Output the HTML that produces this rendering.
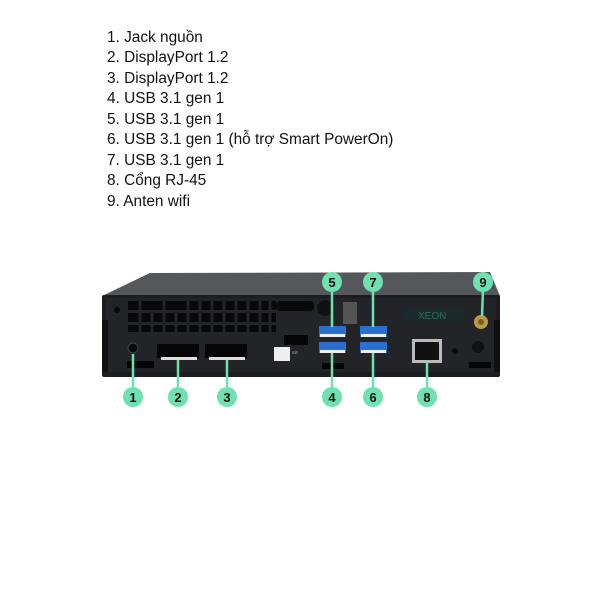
<!DOCTYPE html>
<html><head><meta charset="utf-8"><style>
html,body{margin:0;padding:0;background:#fff;width:600px;height:600px;overflow:hidden}
</style></head><body>
<svg width="600" height="600" xmlns="http://www.w3.org/2000/svg" style="display:block">
<rect width="600" height="600" fill="#fff"/>
<g font-family="Liberation Sans, sans-serif" font-size="15.4" fill="#111">
<text x="107" y="42">1. Jack nguồn</text>
<text x="107" y="62">2. DisplayPort 1.2</text>
<text x="107" y="83">3. DisplayPort 1.2</text>
<text x="107" y="103">4. USB 3.1 gen 1</text>
<text x="107" y="124">5. USB 3.1 gen 1</text>
<text x="107" y="144">6. USB 3.1 gen 1 (hỗ trợ Smart PowerOn)</text>
<text x="107" y="165">7. USB 3.1 gen 1</text>
<text x="107" y="185">8. Cổng RJ-45</text>
<text x="107" y="206">9. Anten wifi</text>
</g>
<!-- lid -->
<polygon points="102,296 150,273 490,272 500,296" fill="#55575b"/>
<!-- body -->
<rect x="102" y="295" width="398" height="82" fill="#1c1d20" rx="2"/>
<rect x="106" y="298" width="390" height="74" fill="#232427"/>
<rect x="102" y="320" width="6" height="52" fill="#111"/>
<rect x="494" y="320" width="6" height="52" fill="#111"/>
<!-- vents -->
<g fill="#08080a">
<rect x="128" y="301" width="148" height="9"/>
<rect x="128" y="313" width="148" height="9"/>
<rect x="128" y="325" width="148" height="7"/>
</g>
<g stroke="#232427" stroke-width="3">
<line x1="140" y1="300" x2="140" y2="333"/><line x1="152" y1="312" x2="152" y2="333"/>
<line x1="164" y1="300" x2="164" y2="333"/><line x1="176" y1="312" x2="176" y2="333"/>
<line x1="188" y1="300" x2="188" y2="333"/><line x1="200" y1="300" x2="200" y2="333"/>
<line x1="212" y1="300" x2="212" y2="333"/><line x1="224" y1="300" x2="224" y2="333"/>
<line x1="236" y1="300" x2="236" y2="333"/><line x1="248" y1="300" x2="248" y2="333"/>
<line x1="260" y1="300" x2="260" y2="333"/><line x1="270" y1="300" x2="270" y2="333"/>
</g>
<circle cx="117" cy="310" r="3" fill="#0a0a0a"/>
<circle cx="133" cy="348" r="5" fill="#0a0a0a" stroke="#444" stroke-width="1"/>
<rect x="127" y="361" width="27" height="7" fill="#050505"/>
<rect x="157" y="344" width="42" height="14" fill="#050505"/>
<rect x="161" y="357" width="36" height="3" fill="#ddd"/>
<rect x="205" y="344" width="42" height="14" fill="#050505"/>
<rect x="209" y="357" width="36" height="3" fill="#ddd"/>
<rect x="276" y="301" width="38" height="10" rx="4" fill="#0a0a0a"/>
<circle cx="325" cy="308" r="8" fill="#111"/>
<rect x="343" y="302" width="14" height="22" fill="#555"/>
<rect x="284" y="335" width="24" height="10" fill="#050505"/>
<rect x="274" y="347" width="16" height="14" fill="#eee"/>
<text x="292" y="354" font-family="Liberation Sans, sans-serif" font-size="4" fill="#ccc">SIT</text>
<rect x="322" y="363" width="22" height="6" fill="#050505"/>
<g>
<rect x="319" y="326" width="27" height="11" fill="#2a6fd0"/><rect x="320" y="334" width="25" height="3" fill="#eee"/>
<rect x="360" y="326" width="27" height="11" fill="#2a6fd0"/><rect x="361" y="334" width="25" height="3" fill="#eee"/>
<rect x="319" y="342" width="27" height="11" fill="#2a6fd0"/><rect x="320" y="350" width="25" height="3" fill="#eee"/>
<rect x="360" y="342" width="27" height="11" fill="#2a6fd0"/><rect x="361" y="350" width="25" height="3" fill="#eee"/>
</g>
<rect x="403" y="308" width="60" height="14" rx="3" fill="#1a2a2c"/>
<text x="418" y="319" font-family="Liberation Sans, sans-serif" font-size="10" fill="#2c6a60">XEON</text>
<rect x="412" y="339" width="30" height="24" fill="#bbb"/>
<rect x="415" y="342" width="24" height="18" fill="#111"/>
<circle cx="455" cy="351" r="3" fill="#0a0a0a"/>
<circle cx="478" cy="347" r="6" fill="#111"/>
<rect x="469" y="362" width="22" height="6" fill="#050505"/>
<circle cx="481" cy="322" r="7" fill="#b99a4a"/>
<circle cx="481" cy="322" r="3" fill="#7a6020"/>
<g stroke="#6fe0b0" stroke-width="2.5">
<line x1="133" y1="354" x2="133" y2="388"/>
<line x1="178" y1="360" x2="178" y2="388"/>
<line x1="227" y1="360" x2="227" y2="388"/>
<line x1="332" y1="353" x2="332" y2="388"/>
<line x1="373" y1="353" x2="373" y2="388"/>
<line x1="427" y1="362" x2="427" y2="388"/>
<line x1="332" y1="290" x2="332" y2="327"/>
<line x1="373" y1="290" x2="373" y2="327"/>
<line x1="483" y1="290" x2="482" y2="316"/>
</g>
<g fill="#6fe0b0">
<circle cx="133" cy="397" r="10"/><circle cx="178" cy="397" r="10"/><circle cx="227" cy="397" r="10"/>
<circle cx="332" cy="397" r="10"/><circle cx="373" cy="397" r="10"/><circle cx="427" cy="397" r="10"/>
<circle cx="332" cy="282" r="10"/><circle cx="373" cy="282" r="10"/><circle cx="483" cy="282" r="10"/>
</g>
<g font-family="Liberation Sans, sans-serif" font-size="13" font-weight="bold" fill="#111" text-anchor="middle">
<text x="133" y="402">1</text><text x="178" y="402">2</text><text x="227" y="402">3</text>
<text x="332" y="402">4</text><text x="373" y="402">6</text><text x="427" y="402">8</text>
<text x="332" y="287">5</text><text x="373" y="287">7</text><text x="483" y="287">9</text>
</g>
</svg>
</body></html>
